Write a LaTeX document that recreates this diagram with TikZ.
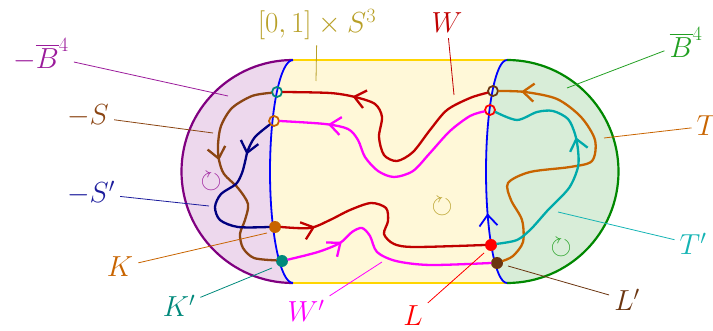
\RequirePackage{fix-cm}
\documentclass[tikz,border=0pt]{standalone}
\usepackage{amssymb}
\usetikzlibrary{arrows.meta,decorations.markings}
\definecolor{fillP}{HTML}{EDD8ED}
\definecolor{fillY}{HTML}{FFF8D8}
\definecolor{fillG}{HTML}{D8EDD8}
\definecolor{cPurple}{HTML}{800080}
\definecolor{cGreen}{HTML}{008800}
\definecolor{cGold}{HTML}{FFD500}
\definecolor{cLB}{HTML}{9B1B9B}
\definecolor{cBrown}{HTML}{8B4513}
\definecolor{cNavy}{HTML}{000080}
\definecolor{cSp}{HTML}{1C1C9C}
\definecolor{cOlive}{HTML}{B8A028}
\definecolor{cRed}{HTML}{C00000}
\definecolor{cMag}{HTML}{FF00FF}
\definecolor{cGl}{HTML}{22A022}
\definecolor{cOrange}{HTML}{C86400}
\definecolor{cCyan}{HTML}{00AAAA}
\definecolor{cTp}{HTML}{14B4B4}
\definecolor{cTeal}{HTML}{00897B}
\definecolor{cDark}{HTML}{6B3510}
\begin{document}
\begin{tikzpicture}[x=1pt,y=1pt,yscale=-1,
  lab/.style={font=\fontsize{29}{34}\selectfont,anchor=base,inner sep=5pt},
  lead/.style={line width=0.8pt},
  strand/.style={line width=2.3pt,line cap=round},
  ring/.style={circle,draw,line width=1.8pt,inner sep=0pt,minimum size=10pt},
  dot/.style={circle,fill,inner sep=0pt,minimum size=12pt},
  rot/.style={font=\fontsize{27}{27}\selectfont},
  flow/.style={postaction={decorate},decoration={markings,
    mark=at position #1 with {\arrow{Straight Barb[length=11pt,width=18pt]}}}},
]
\useasboundingbox (0,0) rectangle (713,331);
% the three pieces
\fill[fillP] (293,60) arc[start angle=-90,end angle=-270,radius=111.5]
  arc[start angle=90,end angle=270,x radius=23,y radius=111.5] -- cycle;
\fill[fillY] (293,60) -- (507,60) arc[start angle=-90,end angle=-270,x radius=21,y radius=111.5]
  -- (293,283) arc[start angle=90,end angle=270,x radius=23,y radius=111.5] -- cycle;
\fill[fillG] (507,60) arc[start angle=-90,end angle=90,radius=111.5]
  arc[start angle=90,end angle=270,x radius=21,y radius=111.5] -- cycle;
\draw[cPurple,line width=2.2pt] (293,60) arc[start angle=-90,end angle=-270,radius=111.5];
\draw[cGreen,line width=2.2pt] (507,60) arc[start angle=-90,end angle=90,radius=111.5];
\draw[cGold,line width=2.5pt] (293,60) -- (507,60) (293,283) -- (507,283);
\draw[blue,line width=1.8pt] (293,283) arc[start angle=90,end angle=270,x radius=23,y radius=111.5];
\draw[blue,line width=1.8pt,flow=0.32] (507,283) arc[start angle=90,end angle=270,x radius=21,y radius=111.5];
% end points on the two spheres
\node[ring,cTeal]   (oTL)  at (277,92)  {};
\node[ring,cOrange] (oTLb) at (274,121) {};
\node[ring,cDark]   (oTR)  at (493,91)  {};
\node[ring,red]     (oTRb) at (490,110) {};
\node[dot,cOrange]  (K)    at (275,227) {};
\node[dot,cTeal]    (Kp)   at (282,261) {};
\node[dot,red]      (L)    at (491,245) {};
\node[dot,cDark]    (Lp)   at (497,263) {};
% W and W'
\draw[strand,cRed,flow=0.75] plot[smooth] coordinates {(oTR.197) (470,98) (447,110) (430,130)
  (413,152) (397,161) (384,155) (379,137) (382,117) (375,104) (355,97) (330,93) (oTL.east)};
\draw[strand,cMag,flow=0.81] plot[smooth] coordinates {(oTRb.194) (470,116) (450,131) (430,153)
  (413,171) (394,177) (378,171) (365,157) (358,140) (348,129) (325,124) (oTLb.east)};
\draw[strand,cRed,flow=0.14] plot[smooth] coordinates {(K.east) (310,228) (330,220) (350,210)
  (371,203) (386,208) (388,221) (384,234) (394,244) (415,247) (L.west)};
\draw[strand,cMag,flow=0.25] plot[smooth] coordinates {(Kp.13) (318,252) (340,243) (352,232)
  (362,228) (370,236) (377,252) (396,261) (430,265) (Lp.west)};
% -S and -S'
\draw[strand,cBrown,flow=0.42] plot[smooth] coordinates {(oTL.188) (252,96) (232,108) (221,126)
  (218,145) (219,160) (224,174) (238,188) (248,204) (245,220) (240,234) (243,248) (254,258) (Kp.174)};
\draw[strand,cNavy,flow=0.23] plot[smooth] coordinates {(oTLb.220) (255,137) (248,150) (245,162)
  (242,173) (236,184) (221,194) (215,207) (220,220) (238,227) (K.west)};
% T and T'
\draw[strand,cOrange,flow=0.93] plot[smooth] coordinates {(Lp.20) (513,256) (523,242) (522,220)
  (511,200) (508,183) (530,172) (570,167) (592,161) (595,140) (581,117) (557,99) (525,92) (oTR.east)};
\draw[strand,cCyan,flow=0.60] plot[smooth] coordinates {(L.11) (517,240) (531,229) (548,210)
  (569,188) (578,167) (578,150) (575,134) (568,119) (553,111) (537,112) (517,120) (oTRb.-20)};
% orientations
\node[rot,cLB]    (rP) at (211,182) {$\circlearrowright$};
\node[rot,cOlive] (rY) at (442,207) {$\circlearrowright$};
\node[rot,cGl]    (rG) at (561,248) {$\circlearrowright$};
% labels
\node[lab,cLB]     (lBm) at (41,69)   {$-\overline{B}^4$};
\node[lab,cBrown]  (lS)  at (88,125)  {$-S$};
\node[lab,cSp]     (lSp) at (91,203)  {$-S'$};
\node[lab,cOlive]  (lI)  at (317,33)  {$[0,1]\times S^3$};
\node[lab,cRed]    (lW)  at (447,33)  {$W$};
\node[lab,cGl]     (lB)  at (686,58)  {$\overline{B}^4$};
\node[lab,cOrange] (lT)  at (707,136) {$T$};
\node[lab,cTp]     (lTp) at (693,255) {$T'$};
\node[lab,cOrange] (lK)  at (120,277) {$K$};
\node[lab,cTeal]   (lKp) at (179,317) {$K'$};
\node[lab,cMag]    (lWp) at (306,322) {$W'$};
\node[lab,red]     (lL)  at (413,326) {$L$};
\node[lab,cDark]   (lLp) at (627,311) {$L'$};
\coordinate (tBm) at (228,96);  \coordinate (tS)  at (213,133);
\coordinate (tSp) at (209,206); \coordinate (tI)  at (316,81);
\coordinate (tW)  at (454,95);  \coordinate (tB)  at (567,88);
\coordinate (tT)  at (604,138); \coordinate (tTp) at (558,212);
\coordinate (tK)  at (267,233); \coordinate (tKp) at (272,268);
\coordinate (tWp) at (382,262); \coordinate (tL)  at (484,253);
\coordinate (tLp) at (508,266);
\draw[lead,cLB] (lBm) -- (tBm);
\draw[lead,cBrown] (lS) -- (tS);
\draw[lead,cSp] (lSp) -- (tSp);
\draw[lead,cOlive] (lI) -- (tI);
\draw[lead,cRed] (lW) -- (tW);
\draw[lead,cGl] (lB) -- (tB);
\draw[lead,cOrange] (lT) -- (tT);
\draw[lead,cTp] (lTp) -- (tTp);
\draw[lead,cOrange] (lK) -- (tK);
\draw[lead,cTeal] (lKp) -- (tKp);
\draw[lead,cMag] (lWp) -- (tWp);
\draw[lead,red] (lL) -- (tL);
\draw[lead,cDark] (lLp) -- (tLp);
\end{tikzpicture}
\end{document}
